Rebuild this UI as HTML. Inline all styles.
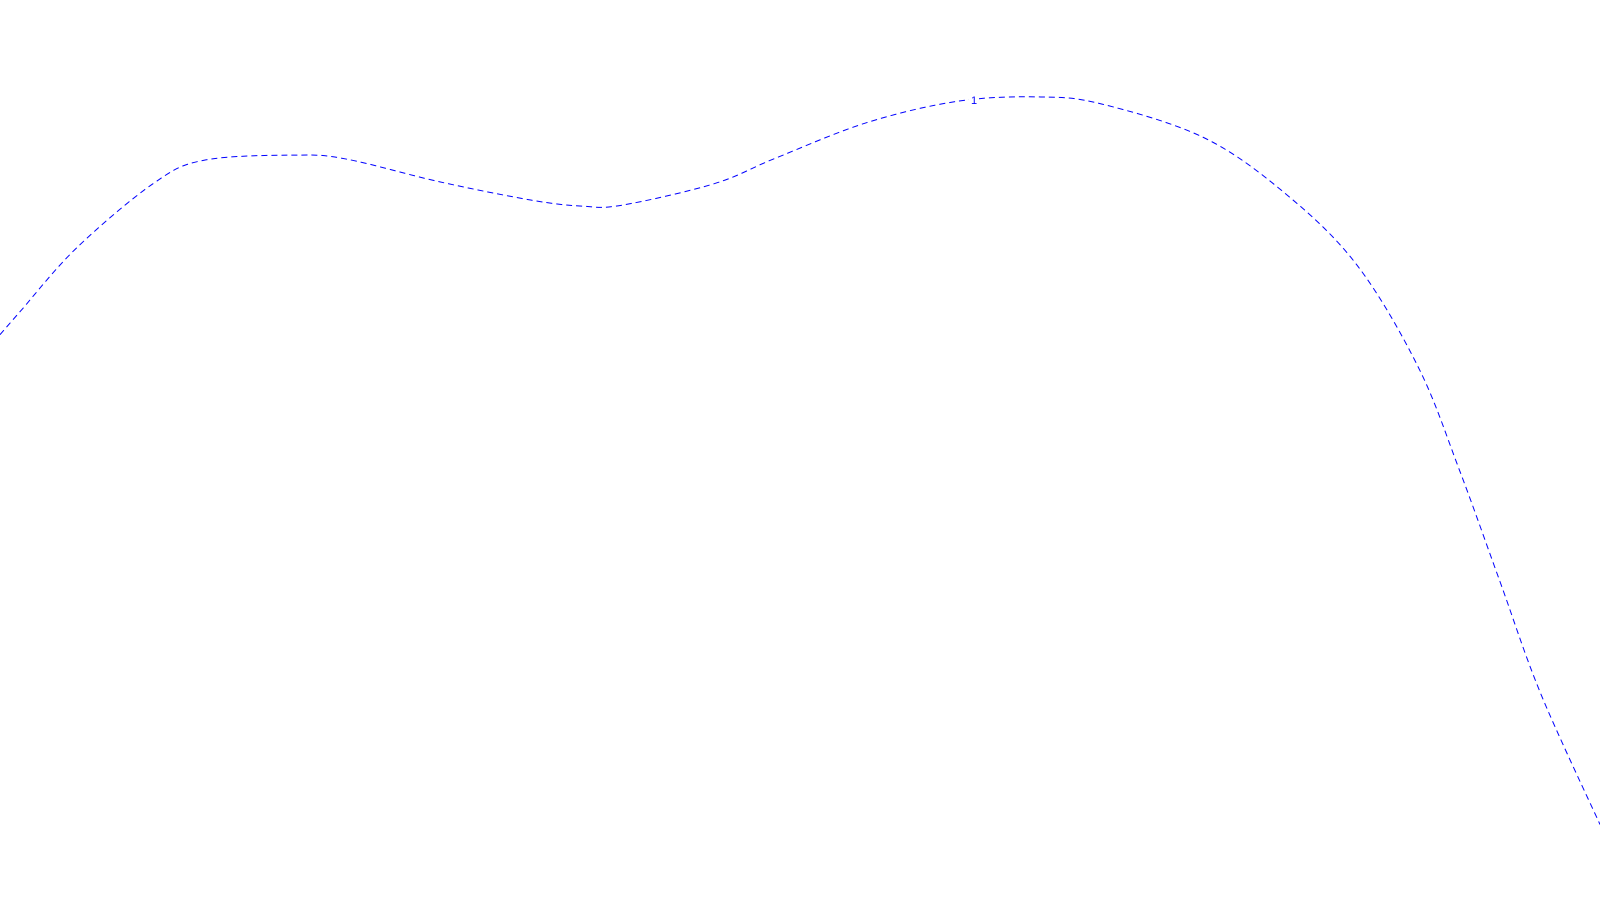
<!DOCTYPE html>
<html><head><meta charset="utf-8"><style>html,body{margin:0;padding:0;background:#fff;width:1600px;height:900px;overflow:hidden}</style></head>
<body>
<svg id="chart" width="1600" height="900" xmlns="http://www.w3.org/2000/svg"></svg>
<script>
const xs = [0,20,75,150,200,290,340,430,520,570,610,700,760,850,940,1020,1080,1180,1260,1330,1390,1430,1470,1510,1568];
const ys = [328,305,243,180,157,152,156,178,196,202,201,180,155,120,99,95,102,135,190,260,360,460,570,680,808];
const levelLabels = ["1"];
const sx = v => v * 1600 / 1568;
const sy = v => v * 1600 / 1568;
const svg = document.getElementById('chart');
const NS = 'http://www.w3.org/2000/svg';
const P = xs.map((x,i)=>[sx(x), sy(ys[i])]);
let d = `M${P[0][0]},${P[0][1]}`;
for (let i=0;i<P.length-1;i++){
  const p0=P[Math.max(0,i-1)], p1=P[i], p2=P[i+1], p3=P[Math.min(P.length-1,i+2)];
  const c1=[p1[0]+(p2[0]-p0[0])/6, p1[1]+(p2[1]-p0[1])/6];
  const c2=[p2[0]-(p3[0]-p1[0])/6, p2[1]-(p3[1]-p1[1])/6];
  d += ` C${c1[0]},${c1[1]} ${c2[0]},${c2[1]} ${p2[0]},${p2[1]}`;
}
const path = document.createElementNS(NS,'path');


path.setAttribute('d', d);
path.setAttribute('fill', 'none');
path.setAttribute('stroke', '#0000ff');
path.setAttribute('stroke-width', '1');
path.setAttribute('stroke-dasharray', '6,4');
svg.appendChild(path);
const bg = document.createElementNS(NS,'rect');


bg.setAttribute('x', 969); bg.setAttribute('y', 93); bg.setAttribute('width', 10); bg.setAttribute('height', 12);
bg.setAttribute('fill', '#fff');
svg.appendChild(bg);
const t = document.createElementNS(NS,'text');


t.setAttribute('x', 974); t.setAttribute('y', 104);
t.setAttribute('text-anchor', 'middle');
t.setAttribute('font-family', 'Liberation Sans, sans-serif');
t.setAttribute('font-size', '11');
t.setAttribute('fill', '#0000ff');
t.textContent = levelLabels[0];
svg.appendChild(t);
</script>
</body></html>
